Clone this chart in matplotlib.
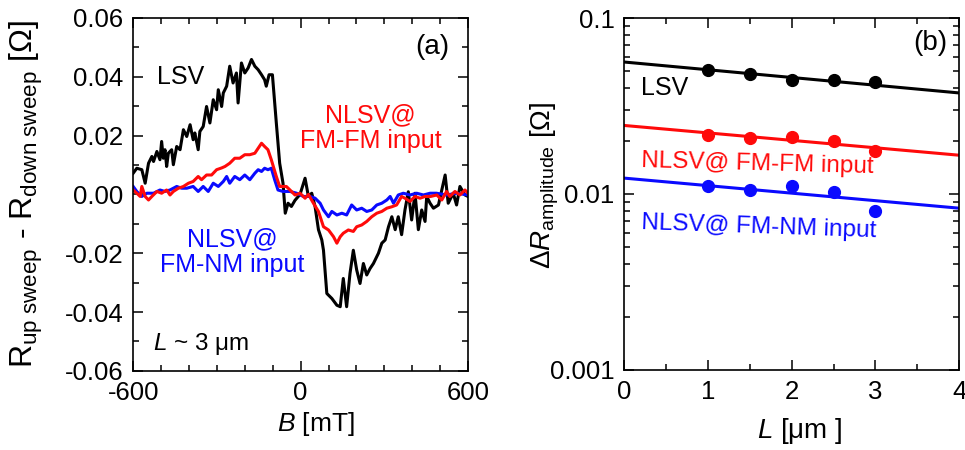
import matplotlib
matplotlib.use("Agg")
import matplotlib.pyplot as plt
from matplotlib.ticker import (MultipleLocator, LogLocator, NullFormatter,
                               FixedLocator, FixedFormatter, FormatStrFormatter)

plt.rcParams["font.family"] = ["Liberation Sans", "DejaVu Sans"]
plt.rcParams["mathtext.fontset"] = "custom"
plt.rcParams["mathtext.rm"] = "Liberation Sans"
plt.rcParams["mathtext.it"] = "Liberation Sans:italic"
plt.rcParams["axes.unicode_minus"] = False

# ---- panel (a): up-sweep minus down-sweep resistance vs field ----
b_lsv = [-600, -587, -569, -557, -545, -533, -527, -515, -504, -498, -492, -486,
         -480, -474, -462, -456, -444, -432, -420, -408, -396, -385, -379, -367,
         -361, -349, -337, -325, -313, -301, -295, -283, -277, -265, -254, -242,
         -230, -224, -212, -200, -188, -176, -164, -152, -140, -129, -123, -113,
         -101, -87, -75, -63, -55, -45, -33, -20, -2, 16, 28, 40, 52, 64, 76, 82,
         94, 112, 130, 142, 153, 165, 177, 189, 201, 213, 225, 237, 249, 261, 279,
         291, 303, 315, 327, 339, 350, 362, 374, 386, 398, 410, 422, 434, 446, 452,
         464, 476, 494, 506, 518, 529, 547, 559, 571, 589, 600]
r_lsv = [0.0072, 0.0089, 0.0084, 0.0038, 0.0106, 0.0129, 0.0112, 0.0146, 0.0118,
         0.0180, 0.0123, 0.0152, 0.0095, 0.0140, 0.0152, 0.0101, 0.0163, 0.0152,
         0.0220, 0.0197, 0.0237, 0.0186, 0.0209, 0.0152, 0.0214, 0.0231, 0.0299,
         0.0243, 0.0322, 0.0288, 0.0356, 0.0299, 0.0345, 0.0368, 0.0436, 0.0379,
         0.0413, 0.0311, 0.0447, 0.0413, 0.0430, 0.0459, 0.0436, 0.0424, 0.0407,
         0.0390, 0.0368, 0.0407, 0.0407, 0.0243, 0.0106, 0.0038, -0.0064, -0.0030,
         -0.0041, -0.0020, 0.0000, 0.0055, -0.0007, 0.0004, -0.0042, -0.0120,
         -0.0155, -0.0190, -0.0337, -0.0354, -0.0377, -0.0382, -0.0286, -0.0382,
         -0.0269, -0.0190, -0.0257, -0.0303, -0.0235, -0.0274, -0.0252, -0.0235,
         -0.0200, -0.0166, -0.0155, -0.0110, -0.0076, -0.0120, -0.0076, -0.0137,
         -0.0053, 0.0009, -0.0087, 0.0004, -0.0120, -0.0053, -0.0092, -0.0007,
         -0.0030, -0.0047, -0.0036, 0.0015, 0.0066, -0.0030, 0.0004, -0.0036,
         0.0027, -0.0002, -0.0007]

b_ffm = [-600, -587, -575, -569, -557, -545, -533, -515, -498, -480, -468, -456,
         -438, -420, -402, -385, -367, -355, -337, -319, -301, -283, -271, -254,
         -236, -218, -200, -182, -164, -152, -140, -129, -117, -105, -87, -75,
         -51, -38, -20, -2, 16, 28, 46, 64, 82, 100, 118, 130, 142, 153, 171,
         189, 201, 219, 237, 255, 273, 291, 309, 327, 344, 362, 374, 392, 410,
         428, 446, 466, 488, 506, 523, 535, 553, 571, 589, 600]
r_ffm = [0.0015, 0.0004, -0.0007, 0.0027, -0.0007, -0.0019, -0.0007, 0.0010,
         0.0004, 0.0015, -0.0002, 0.0010, 0.0021, 0.0027, 0.0038, 0.0044, 0.0061,
         0.0050, 0.0066, 0.0066, 0.0084, 0.0090, 0.0095, 0.0106, 0.0123, 0.0123,
         0.0135, 0.0135, 0.0140, 0.0157, 0.0174, 0.0163, 0.0152, 0.0118, 0.0061,
         0.0027, 0.0027, 0.0015, -0.0002, 0.0004, -0.0013, 0.0000, -0.0030,
         -0.0058, -0.0110, -0.0121, -0.0144, -0.0166, -0.0144, -0.0132, -0.0121,
         -0.0126, -0.0110, -0.0104, -0.0092, -0.0076, -0.0064, -0.0058, -0.0047,
         -0.0042, -0.0036, -0.0007, -0.0013, -0.0024, -0.0007, -0.0013, -0.0007,
         -0.0007, -0.0002, -0.0019, 0.0010, -0.0007, 0.0010, -0.0002, 0.0015,
         0.0004]

b_fnm = [-600, -587, -569, -551, -527, -504, -486, -468, -444, -426, -408, -385,
         -367, -349, -331, -313, -295, -277, -265, -254, -236, -218, -200, -182,
         -164, -152, -140, -129, -117, -105, -93, -81, -63, -38, -14, 10, 34,
         52, 70, 82, 100, 112, 130, 148, 165, 183, 201, 219, 237, 255, 273, 291,
         309, 321, 333, 350, 368, 392, 416, 440, 464, 487, 523, 559, 600]
r_fnm = [0.0027, 0.0010, -0.0007, 0.0004, 0.0004, 0.0015, 0.0010, 0.0015,
         0.0027, 0.0021, 0.0021, 0.0027, 0.0010, 0.0027, 0.0010, 0.0038, 0.0027,
         0.0044, 0.0061, 0.0038, 0.0061, 0.0050, 0.0066, 0.0050, 0.0072, 0.0084,
         0.0078, 0.0089, 0.0084, 0.0089, 0.0050, 0.0015, 0.0010, 0.0010, 0.0004,
         -0.0007, -0.0007, -0.0013, -0.0030, -0.0053, -0.0076, -0.0058, -0.0070,
         -0.0064, -0.0070, -0.0036, -0.0053, -0.0047, -0.0058, -0.0053, -0.0036,
         -0.0030, -0.0019, -0.0007, -0.0030, -0.0002, 0.0004, -0.0002, 0.0004,
         -0.0002, 0.0004, 0.0004, -0.0002, 0.0004, -0.0002]

# ---- panel (b): amplitude vs channel length ----
length_um = [1.0, 1.5, 2.0, 2.5, 3.0]
amp_lsv = [0.0504, 0.0483, 0.0442, 0.0446, 0.0431]
amp_ffm = [0.0217, 0.0208, 0.0212, 0.0199, 0.0175]
amp_fnm = [0.01104, 0.01057, 0.0111, 0.0102, 0.00795]

fit_length = [0.0, 4.0]
fit_lsv = [0.0562, 0.0375]
fit_ffm = [0.0245, 0.0166]
fit_fnm = [0.0123, 0.0083]

RED = "#ff0a0a"
BLUE = "#0a0aff"
TICK_FS = 18.5
ANN_FS = 18

fig = plt.figure(figsize=(9.65, 4.5), dpi=100)
ax1 = fig.add_axes([0.138, 0.176, 0.347, 0.784])
ax2 = fig.add_axes([0.647, 0.178, 0.347, 0.782])


def style(ax):
    for s in ax.spines.values():
        s.set_linewidth(1.2)
    ax.tick_params(which="both", direction="in", top=True, right=True,
                   labelsize=TICK_FS, width=1.1, pad=7)
    ax.tick_params(which="major", length=7)
    ax.tick_params(which="minor", length=4)


# panel (a)
ax1.plot(b_lsv, r_lsv, color="black", lw=2.2)
ax1.plot(b_fnm, r_fnm, color=BLUE, lw=2.2)
ax1.plot(b_ffm, r_ffm, color=RED, lw=2.2)
ax1.set_xlim(-600, 600)
ax1.set_ylim(-0.06, 0.06)
ax1.xaxis.set_major_locator(FixedLocator([-600, 0, 600]))
ax1.xaxis.set_minor_locator(MultipleLocator(100))
ax1.yaxis.set_major_locator(MultipleLocator(0.02))
ax1.yaxis.set_minor_locator(MultipleLocator(0.01))
ax1.yaxis.set_major_formatter(FormatStrFormatter("%.2f"))
style(ax1)
ax1.set_xlabel(r"$\it{B}$ [mT]", fontsize=19)
ax1.xaxis.set_label_coords(0.546, -0.11)
ax1.set_ylabel(r"R$_{\mathrm{up\ sweep}}$ - R$_{\mathrm{down\ sweep}}$ [Ω]",
               fontsize=23)
ax1.yaxis.set_label_coords(-0.263, 0.5)

ax1.text(-514, 0.040, "LSV", fontsize=ANN_FS, color="black", va="center")
ax1.text(250, 0.0226, "NLSV@\nFM-FM input", fontsize=ANN_FS, color=RED,
         ha="center", va="center", linespacing=1.1)
ax1.text(-245, -0.0197, "NLSV@\nFM-NM input", fontsize=ANN_FS, color=BLUE,
         ha="center", va="center", linespacing=1.1)
ax1.text(471, 0.050, "(a)", fontsize=20, ha="center", va="center")
ax1.text(-530, -0.051, r"$\it{L}$ ~ 3 μm", fontsize=17.5, va="center")

# panel (b)
ax2.plot(fit_length, fit_lsv, color="black", lw=2.2)
ax2.plot(fit_length, fit_ffm, color=RED, lw=2.2)
ax2.plot(fit_length, fit_fnm, color=BLUE, lw=2.2)
ax2.plot(length_um, amp_lsv, "o", color="black", ms=8.5)
ax2.plot(length_um, amp_ffm, "o", color=RED, ms=8.5)
ax2.plot(length_um, amp_fnm, "o", color=BLUE, ms=8.5)
ax2.set_yscale("log")
ax2.set_xlim(0, 4)
ax2.set_ylim(0.001, 0.1)
ax2.xaxis.set_major_locator(MultipleLocator(1))
ax2.xaxis.set_minor_locator(MultipleLocator(0.5))
ax2.yaxis.set_major_locator(FixedLocator([0.001, 0.01, 0.1]))
ax2.yaxis.set_major_formatter(FixedFormatter(["0.001", "0.01", "0.1"]))
ax2.yaxis.set_minor_locator(LogLocator(base=10, subs=range(2, 10)))
ax2.yaxis.set_minor_formatter(NullFormatter())
style(ax2)
ax2.set_xlabel(r"$\it{L}$ [μm ]", fontsize=20)
ax2.xaxis.set_label_coords(0.525, -0.13)
ax2.set_ylabel(r"$\it{ΔR}_{\mathrm{amplitude}}$ [Ω]", fontsize=20)
ax2.yaxis.set_label_coords(-0.19, 0.525)

ax2.text(0.2, 0.040, "LSV", fontsize=ANN_FS, color="black", va="center")
ax2.text(0.2, 0.0147, "NLSV@ FM-FM input", fontsize=17.5, color=RED,
         va="center", rotation=-1.5)
ax2.text(0.2, 0.0065, "NLSV@ FM-NM input", fontsize=17.5, color=BLUE,
         va="center", rotation=-2)
ax2.text(3.65, 0.072, "(b)", fontsize=20, ha="center", va="center")

fig.savefig("out.png", dpi=100)
